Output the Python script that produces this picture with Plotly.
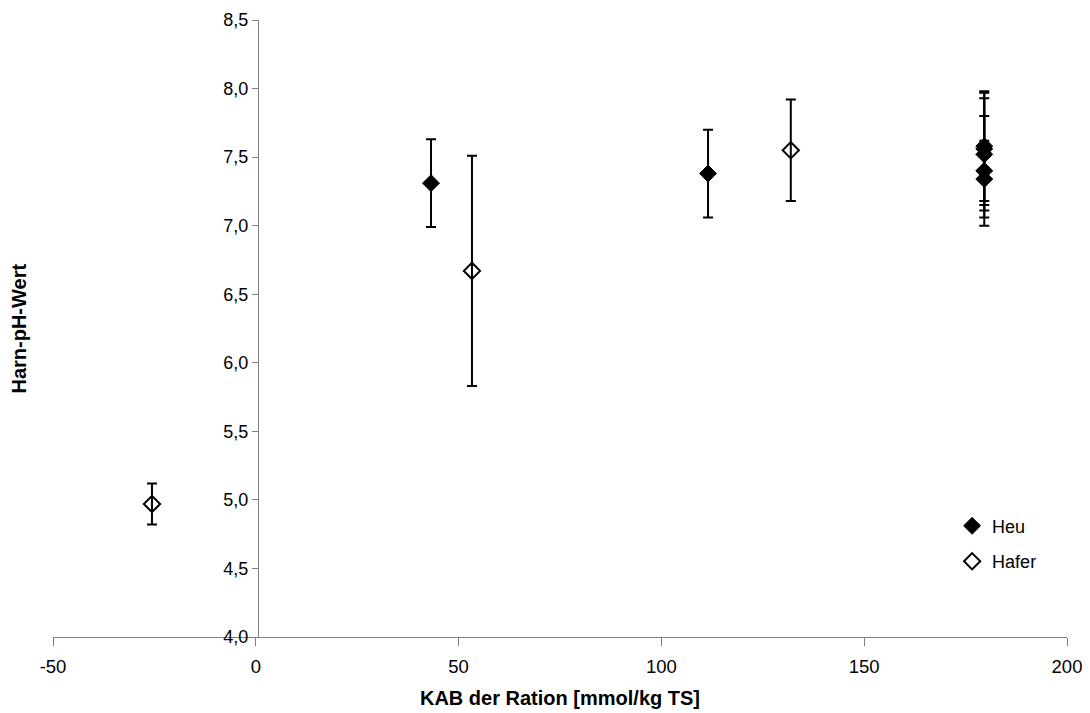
import plotly.graph_objects as go

# Data
heu_x = [43.2, 111.5, 179.6, 179.6, 179.6, 179.6, 179.6]
heu_y = [7.31, 7.38, 7.58, 7.56, 7.52, 7.40, 7.34]
heu_err = [0.32, 0.32, 0.40, 0.41, 0.41, 0.40, 0.28]

hafer_x = [-25.6, 53.3, 131.9]
hafer_y = [4.97, 6.67, 7.55]
hafer_err = [0.15, 0.84, 0.37]

x_ticks = [-50, 0, 50, 100, 150, 200]
y_ticks = [4.0, 4.5, 5.0, 5.5, 6.0, 6.5, 7.0, 7.5, 8.0, 8.5]

FONT = "Liberation Sans, Arial, sans-serif"

fig = go.Figure()
fig.add_trace(go.Scatter(
    x=heu_x, y=heu_y, mode="markers", name="Heu", legendgroup="a",
    marker=dict(symbol="diamond", size=13, color="black", line=dict(color="black", width=1)),
    error_y=dict(type="data", array=heu_err, visible=True, color="black", thickness=2, width=5),
))
fig.add_trace(go.Scatter(
    x=hafer_x, y=hafer_y, mode="markers", name="Hafer", legendgroup="b",
    marker=dict(symbol="diamond-open", size=12.5, color="black", line=dict(color="black", width=2)),
    error_y=dict(type="data", array=hafer_err, visible=True, color="black", thickness=2, width=5),
))

fig.update_layout(
    width=1090, height=713,
    margin=dict(l=45, r=31, t=12, b=84),
    paper_bgcolor="white", plot_bgcolor="white",
    separators=",.",
    font=dict(family=FONT, size=18, color="black"),
    showlegend=True,
    legend=dict(x=0.8867, y=0.2097, xanchor="left", yanchor="top",
                font=dict(size=18, family=FONT), bgcolor="rgba(0,0,0,0)",
                traceorder="grouped", tracegroupgap=9, itemwidth=30),
    xaxis=dict(range=[-50, 200], tickvals=x_ticks, ticktext=[str(v) for v in x_ticks],
               showgrid=False, zeroline=False, automargin=False,
               showline=True, linecolor="#808080", linewidth=1, ticks="outside",
               ticklen=8, tickcolor="#808080", anchor="y", ticklabelstandoff=5,
               title=dict(text="<b>KAB der Ration [mmol/kg TS]</b>", standoff=14,
                          font=dict(size=20, family=FONT)),
               tickfont=dict(size=18.5, family=FONT)),
    yaxis=dict(range=[4, 8.5], tickvals=y_ticks, tickformat=".1f", showgrid=False,
               zeroline=False, showline=True, linecolor="#808080", linewidth=1,
               automargin=False,
               ticks="outside", ticklen=6, tickcolor="#808080",
               anchor="free", position=0.202, tickfont=dict(size=18, family=FONT)),
    annotations=[dict(text="<b>Harn-pH-Wert</b>", x=-0.0345, xref="paper", y=0.5, yref="paper",
                      textangle=-90, showarrow=False, font=dict(size=20, family=FONT),
                      xanchor="center", yanchor="middle")],
)

fig.write_html("out.html")
